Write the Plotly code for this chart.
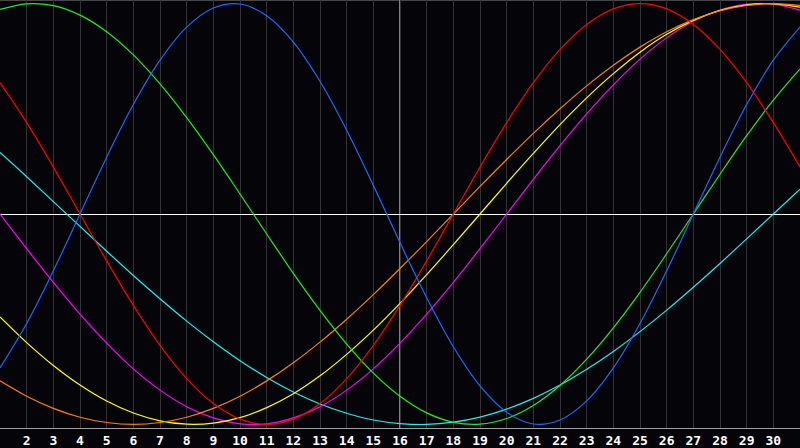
import plotly.graph_objects as go

# days shown on the chart (day 16 = today, marked with the white line)
days = list(range(1, 32))
tick_days = list(range(2, 31))
tick_labels = [str(d) for d in tick_days]
today = 16

# primary cycles
physical = [-0.731, -0.520, -0.270, 0.0, 0.270, 0.520, 0.731, 0.888, 0.979, 0.998, 0.942,
            0.817, 0.631, 0.398, 0.136, -0.136, -0.398, -0.631, -0.817, -0.942, -0.998,
            -0.979, -0.888, -0.731, -0.520, -0.270, 0.0, 0.270, 0.520, 0.731, 0.888]
emotional = [0.624, 0.434, 0.223, 0.0, -0.223, -0.434, -0.624, -0.782, -0.901, -0.975,
             -1.0, -0.975, -0.901, -0.782, -0.624, -0.434, -0.223, 0.0, 0.223, 0.434,
             0.624, 0.782, 0.901, 0.975, 1.0, 0.975, 0.901, 0.782, 0.624, 0.434, 0.223]
intellectual = [0.972, 0.999, 0.990, 0.945, 0.866, 0.756, 0.618, 0.458, 0.282, 0.095,
                -0.095, -0.282, -0.458, -0.618, -0.756, -0.866, -0.945, -0.990, -0.999,
                -0.972, -0.910, -0.815, -0.690, -0.541, -0.372, -0.189, 0.0, 0.189,
                0.372, 0.541, 0.690]

# secondary cycles
intuitive = [0.0, -0.165, -0.325, -0.476, -0.614, -0.736, -0.837, -0.916, -0.969, -0.997,
             -0.997, -0.969, -0.916, -0.837, -0.736, -0.614, -0.476, -0.325, -0.165, 0.0,
             0.165, 0.325, 0.476, 0.614, 0.736, 0.837, 0.916, 0.969, 0.997, 0.997, 0.969]
aesthetic = [-0.489, -0.611, -0.720, -0.813, -0.889, -0.946, -0.983, -0.999, -0.994,
             -0.968, -0.920, -0.854, -0.769, -0.667, -0.552, -0.425, -0.288, -0.146, 0.0,
             0.146, 0.288, 0.425, 0.552, 0.667, 0.769, 0.854, 0.920, 0.968, 0.994, 0.999,
             0.983]
awareness = [-0.793, -0.866, -0.924, -0.966, -0.991, -1.0, -0.991, -0.966, -0.924, -0.866,
             -0.793, -0.707, -0.609, -0.5, -0.383, -0.259, -0.131, 0.0, 0.131, 0.259,
             0.383, 0.5, 0.609, 0.707, 0.793, 0.866, 0.924, 0.966, 0.991, 1.0, 0.991]
spiritual = [0.292, 0.177, 0.059, -0.059, -0.177, -0.292, -0.403, -0.509, -0.607, -0.697,
             -0.777, -0.846, -0.903, -0.947, -0.979, -0.996, -1.0, -0.989, -0.965, -0.927,
             -0.876, -0.813, -0.738, -0.653, -0.559, -0.457, -0.348, -0.235, -0.118, 0.0,
             0.118]

series = [
    (spiritual, "#22eeee"),
    (intuitive, "#ff00ff"),
    (aesthetic, "#ffff00"),
    (awareness, "#ff8000"),
    (intellectual, "#22ee22"),
    (emotional, "#ff0000"),
    (physical, "#1a6cff"),
]

fig = go.Figure()
for values, color in series:
    fig.add_trace(go.Scatter(
        x=days,
        y=values,
        mode='lines',
        line=dict(color=color, width=1.2, shape='spline'),
        hoverinfo='skip',
    ))

# today marker
fig.add_shape(type='line', xref='x', yref='paper', x0=today, x1=today, y0=0, y1=1,
              line=dict(color='white', width=1), layer='below')
# top border
fig.add_shape(type='line', xref='paper', yref='paper', x0=0, x1=1, y0=1, y1=1,
              line=dict(color='#8a8a8a', width=1), layer='below')

fig.update_layout(
    width=800,
    height=448,
    margin=dict(l=0, r=0, t=0, b=20, pad=0),
    paper_bgcolor='#050408',
    plot_bgcolor='#050408',
    showlegend=False,
    xaxis=dict(
        range=[1, 31],
        tickvals=tick_days,
        ticktext=tick_labels,
        showgrid=True,
        gridcolor='#333333',
        gridwidth=1,
        zeroline=False,
        showline=True,
        linecolor='#a0a0a0',
        linewidth=1,
        ticks='',
        tickfont=dict(family='DejaVu Sans Mono', size=13, color='white', weight='bold'),
        fixedrange=True,
    ),
    yaxis=dict(
        range=[-1.017, 1.017],
        showgrid=False,
        showticklabels=False,
        zeroline=True,
        zerolinecolor='white',
        zerolinewidth=1,
        showline=True,
        linecolor='#a0a0a0',
        linewidth=1,
        ticks='',
        fixedrange=True,
    ),
)

# the page's default body margin would push the chart off the window
fig.write_html("out.html", config={'displayModeBar': False},
               post_script="document.body.style.margin='0';")
